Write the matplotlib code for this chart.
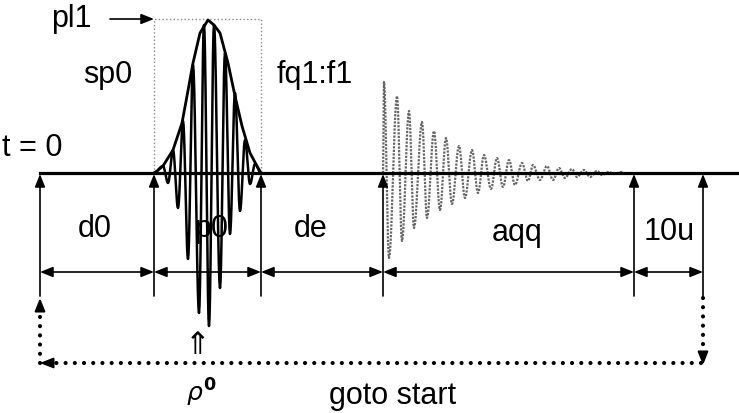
"""
Pulse program diagram: shaped pulse (sp0) followed by FID acquisition, goto start loop.
Drawn in pixel-like units (x to the right, y downward) on a single blank axes.
"""

import numpy as np
import matplotlib
matplotlib.use("Agg")
import matplotlib.pyplot as plt

plt.rcParams["font.family"] = ["Liberation Sans", "DejaVu Sans"]

# ─── Data ────────────────────────────────────────────────────────────────────
# timing marks on the baseline (start of d0, p0, de, aqq, 10u, end)
event_x = [40, 154, 261, 383, 634, 703]
segment_labels = ["d0", "p0", "de", "aqq", "10u"]
segment_label_x = [95, 211, 311, 517, 669]
segment_label_y = [237, 237, 237, 241, 240]

# shaped pulse envelope (height above baseline)
env_x = [154, 157, 163, 173, 182, 187, 193, 200, 208, 214, 220, 228, 235, 242, 250, 257, 261]
env_h = [0, 2, 7, 23, 50, 77, 110, 140, 153, 148, 140, 110, 77, 47, 20, 7, 0]

# carrier lobes inside the pulse
pulse_peak_x = [163, 173, 183, 193, 204, 214, 225, 235, 245, 255]
pulse_peak_h = [7, 23, 52, 108, 148, 148, 120, 80, 33, 9]
pulse_trough_x = [168, 178, 188, 199, 209, 220, 230, 240, 250]
pulse_trough_d = [10, 35, 86, 140, 153, 115, 61, 38, 11]

# FID lobes
fid_peak_x = [384, 397, 409, 422, 434, 446, 459, 472, 484, 497, 509, 522, 533, 547, 559,
              572, 584, 597, 609, 621]
fid_peak_h = [91, 77, 62, 51, 42, 35, 27, 23, 18, 15, 13, 10, 8, 7, 5, 4, 3, 2, 1, 1]
fid_trough_x = [389, 402, 414, 427, 440, 452, 465, 478, 491, 503, 515, 528, 540, 553, 565,
                577, 590, 602, 614, 626]
fid_trough_d = [85, 68, 55, 45, 37, 31, 25, 20, 16, 14, 12, 8, 7, 7, 5, 4, 4, 2, 1, 1]

BASE_Y = 173
PL1_Y = 19
DIM_Y = 272
VLINE_BOTTOM = 296
LOOP_Y = 363
FS = 22


def _merge(px, ph, tx, td, start, end):
    """Alternating extremes (x, signed height), zero at both ends."""
    pts = [(x, h) for x, h in zip(px, ph)] + [(x, -d) for x, d in zip(tx, td)]
    pts.sort()
    return [(start, 0)] + pts + [(end, 0)]


def _wave(pts, n=10):
    """Join consecutive extremes with half-cosine segments."""
    xs, ys = [], []
    for (x0, a0), (x1, a1) in zip(pts[:-1], pts[1:]):
        t = np.linspace(0, 1, n, endpoint=False)
        xs.extend(x0 + (x1 - x0) * t)
        ys.extend(a0 + (a1 - a0) * (1 - np.cos(np.pi * t)) / 2)
    xs.append(pts[-1][0])
    ys.append(pts[-1][1])
    return np.array(xs), BASE_Y - np.array(ys)


def _arrow(ax, tip, tail, lw=1.2, ls="-"):
    ax.annotate("", xy=tip, xytext=tail,
                arrowprops=dict(arrowstyle="-|>,head_length=0.55,head_width=0.22",
                                lw=lw, color="black", ls=ls,
                                shrinkA=0, shrinkB=0, mutation_scale=14))


fig = plt.figure(figsize=(7.39, 4.13), dpi=100)
ax = fig.add_axes([0, 0, 1, 1])
ax.set_xlim(0, 739)
ax.set_ylim(413, 0)
ax.axis("off")

# baseline
ax.plot([event_x[0], 739], [BASE_Y, BASE_Y], color="black", lw=2.3, zorder=4)

# dotted box around the shaped pulse
ax.plot([event_x[1], event_x[1], event_x[2], event_x[2]],
        [BASE_Y, PL1_Y, PL1_Y, BASE_Y], color="#888888", lw=1.0, ls=":", zorder=2)

# shaped pulse: carrier + envelope
cx, cy = _wave(_merge(pulse_peak_x, pulse_peak_h, pulse_trough_x, pulse_trough_d,
                      event_x[1], event_x[2]))
ax.plot(cx, cy, color="black", lw=1.8, zorder=3)
ax.plot(env_x, [BASE_Y - h for h in env_h], color="black", lw=2.0, zorder=3,
        solid_joinstyle="round")

# FID
fx, fy = _wave(_merge(fid_peak_x, fid_peak_h, fid_trough_x, fid_trough_d,
                      event_x[3], event_x[4]))
ax.plot(fx, fy, color="#666666", lw=1.6, ls=(0, (1, 0.6)), zorder=3)

# vertical timing lines with up-arrows at the baseline
for x in event_x:
    _arrow(ax, (x, BASE_Y + 1), (x, VLINE_BOTTOM))

# dimension arrows between timing marks
for x0, x1 in zip(event_x[:-1], event_x[1:]):
    ax.annotate("", xy=(x1, DIM_Y), xytext=(x0, DIM_Y),
                arrowprops=dict(arrowstyle="<|-|>,head_length=0.55,head_width=0.22",
                                lw=1.2, color="black", shrinkA=0, shrinkB=0,
                                mutation_scale=14))

for lab, x, y in zip(segment_labels, segment_label_x, segment_label_y):
    ax.text(x, y, lab, fontsize=FS, ha="center", va="baseline", zorder=1)

# goto start loop (dotted)
dot = dict(color="black", lw=3.0, ls=(0, (0.01, 2.2)), dash_capstyle="round")
ax.plot([event_x[-1], event_x[-1]], [VLINE_BOTTOM + 2, LOOP_Y - 6], **dot)
ax.plot([event_x[-1] - 2, event_x[0] + 10], [LOOP_Y, LOOP_Y], **dot)
ax.plot([event_x[0], event_x[0]], [LOOP_Y, VLINE_BOTTOM + 12], **dot)
_arrow(ax, (event_x[-1], LOOP_Y + 2), (event_x[-1], LOOP_Y - 8), lw=1.5)
_arrow(ax, (event_x[0], LOOP_Y), (event_x[0] + 10, LOOP_Y), lw=1.5)
_arrow(ax, (event_x[0], VLINE_BOTTOM + 2), (event_x[0], VLINE_BOTTOM + 12), lw=1.5)

# pl1 arrow and labels
_arrow(ax, (event_x[1], PL1_Y), (110, PL1_Y))
ax.text(71, 27, "pl1", fontsize=FS, ha="center", va="baseline")
ax.text(108, 83, "sp0", fontsize=FS, ha="center", va="baseline")
ax.text(315, 83, "fq1:f1", fontsize=FS, ha="center", va="baseline")
ax.text(2, 156, "t = 0", fontsize=FS, ha="left", va="baseline")
ax.text(393, 404, "goto start", fontsize=FS, ha="center", va="baseline")
ax.text(197, 345, "⇑", fontsize=22, ha="center", va="center", family=["DejaVu Sans"])
ax.text(201, 402, r"$\rho^{\mathbf{0}}$", fontsize=18, ha="center", va="baseline")

fig.savefig("out.png", dpi=100)
